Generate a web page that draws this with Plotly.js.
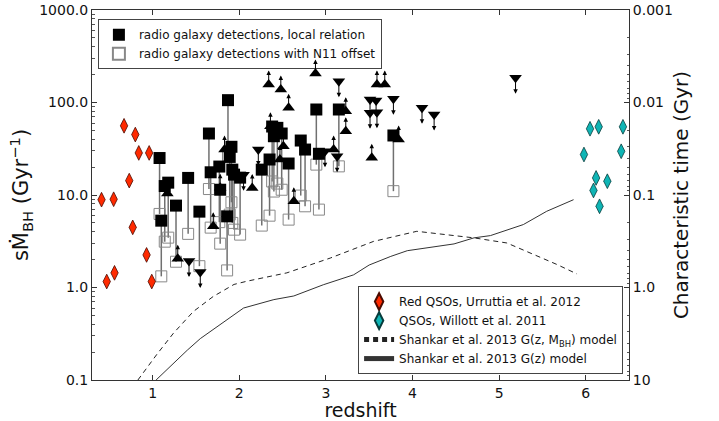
<!DOCTYPE html>
<html><head><meta charset="utf-8">
<script src="https://cdn.plot.ly/plotly-3.0.1.min.js"></script>
<style>html,body{margin:0;padding:0;background:#fff}#chart{width:719px;height:421px}</style>
</head><body><div id="chart"></div>
<script>
// Radio galaxy detections: redshift, local-relation sMdot, N11-offset sMdot
const zSq    = [1.08,1.10,1.14,1.18,1.27,1.41,1.54,1.65,1.67,1.77,1.78,1.87,1.86,1.89,1.91,1.92,1.94,2.01,2.26,2.35,2.38,2.44,2.40,2.49,2.57,2.71,2.76,2.89,2.92,3.15,3.78];
const vLocal = [25.1,5.28,12.5,13.6,7.68,15.3,6.61,46.2,17.6,20.3,11.4,106,5.88,25.8,33.2,18.8,16.6,15.4,18.8,24.2,55.0,53.2,43.2,46.2,21.9,38.8,31.0,84.0,27.9,84.0,44.0];
const vN11   = [6.24,1.32,3.13,3.46,1.90,3.80,1.70,11.6,4.44,5.09,2.98,26.7,1.53,6.14,8.34,4.99,4.22,3.73,4.67,5.98,14.0,13.3,10.9,11.4,5.42,9.86,7.55,21.3,6.95,20.4,11.0];
// Upper limits (down triangles)
const zUL = [1.42,1.55,2.05,2.22,2.99,3.13,3.15,3.51,3.58,3.51,3.59,3.78,4.11,4.25,5.19];
const vUL = [1.93,1.47,16.6,31.0,29.7,26.2,170,108,105,77.4,78.5,110,87.7,74.1,185];
// Lower limits (up triangles)
const zLL = [1.17,1.29,1.70,1.83,1.78,2.15,2.34,2.48,2.57,2.88,3.23,3.23,2.63,2.51,2.47,3.09,3.53,3.59,3.68,3.84,2.36];
const vLL = [10.4,2.05,4.58,31.0,12.0,11.9,157,138,87.7,206,80.5,48.9,8.55,33.6,24.2,31.0,25.2,157,157,39.8,55.4];
// Red QSOs, Urruttia et al. 2012
const zRed = [0.41,0.55,0.67,0.80,0.84,0.96,0.73,0.77,0.93,0.56,0.47,0.99];
const vRed = [8.9,9.0,56,45,28.5,28.5,14.3,4.47,2.25,1.44,1.16,1.16];
// QSOs, Willott et al. 2011
const zCyan = [6.05,6.15,6.43,5.98,6.41,6.12,6.25,6.09,6.16];
const vCyan = [52,54.6,54.6,27.4,29.7,15.3,14.1,11.2,7.55];
// Shankar et al. 2013 models
const zModelMBH = [0.83,0.94,1.05,1.24,1.47,1.70,1.94,2.09,2.55,3.05,3.55,4.05,4.38,4.71,5.09,5.36,5.67,5.90];
const vModelMBH = [0.10,0.14,0.19,0.32,0.55,0.80,1.08,1.17,1.44,2.08,3.15,4.05,3.72,3.44,3.03,2.36,1.77,1.40];
const zModelG = [1.04,1.20,1.40,1.55,1.70,2.05,2.40,2.63,2.97,3.32,3.50,3.75,3.94,4.48,4.71,4.90,5.28,5.55,5.86];
const vModelG = [0.10,0.14,0.21,0.28,0.35,0.60,0.74,0.81,1.07,1.37,1.75,2.17,2.50,2.96,3.44,3.64,4.79,6.67,8.90];
// Tick labels
const xTickVals = [1,2,3,4,5,6];
const xTickText = ['1','2','3','4','5','6'];
const yTickVals = [0.1,1,10,100,1000];
const yTickText = ['0.1','1.0','10.0','100.0','1000.0'];
const y2TickVals = [0.001,0.01,0.1,1,10];
const y2TickText = ['0.001','0.01','0.1','1.0','10'];

const FONT = 'DejaVu Sans, Arial, sans-serif';
function minorVals(decades){const out=[];decades.forEach(d=>{for(let k=2;k<=9;k++)out.push(k*d);});return out;}

const lx=[], ly=[];
for(let i=0;i<zSq.length;i++){lx.push(zSq[i],zSq[i],null);ly.push(vLocal[i],vN11[i],null);}

const traces = [
  {x:lx,y:ly,mode:'lines',line:{color:'#707070',width:1.5},showlegend:false,hoverinfo:'skip'},
  {x:zModelMBH,y:vModelMBH,mode:'lines',line:{color:'#222',width:1,dash:'5px,4px'},name:'Shankar et al. 2013 G(z, M<sub>BH</sub>) model',legend:'legend2',legendrank:3},
  {x:zModelG,y:vModelG,mode:'lines',line:{color:'#333',width:1},name:'Shankar et al. 2013 G(z) model',legend:'legend2',legendrank:4},
  {x:zSq,y:vN11,mode:'markers',marker:{symbol:'square',size:11,color:'rgba(255,255,255,0)',line:{color:'#888',width:1}},name:'radio galaxy detections with N11 offset',legendrank:2},
  {x:zSq,y:vLocal,mode:'markers',marker:{symbol:'square',size:12,color:'#000',line:{width:0}},name:'radio galaxy detections, local relation',legendrank:1},
  {x:zUL,y:vUL,mode:'markers',marker:{symbol:'triangle-down',size:11,color:'#000',line:{width:0}},showlegend:false},
  {x:zLL,y:vLL,mode:'markers',marker:{symbol:'triangle-up',size:11,color:'#000',line:{width:0}},showlegend:false},
  {x:zRed,y:vRed,mode:'markers',marker:{symbol:'diamond-tall',size:10.5,color:'#ff2a00',line:{color:'#4a0a00',width:0.8}},name:'Red QSOs, Urruttia et al. 2012',legend:'legend2',legendrank:1},
  {x:zCyan,y:vCyan,mode:'markers',marker:{symbol:'diamond-tall',size:10.5,color:'#0fb5b5',line:{color:'#063c3c',width:0.8}},name:'QSOs, Willott et al. 2011',legend:'legend2',legendrank:2},
  {x:[null],y:[null],yaxis:'y2',mode:'markers',showlegend:false,hoverinfo:'skip'}
];

const annotations = [];
for(let i=0;i<zUL.length;i++){
  annotations.push({x:zUL[i],y:Math.log10(vUL[i]),xref:'x',yref:'y',text:'',showarrow:true,arrowhead:2,arrowsize:0.9,arrowwidth:1,arrowcolor:'#000',ax:0,ay:-16,yshift:-16});
}
for(let i=0;i<zLL.length;i++){
  annotations.push({x:zLL[i],y:Math.log10(vLL[i]),xref:'x',yref:'y',text:'',showarrow:true,arrowhead:2,arrowsize:0.9,arrowwidth:1,arrowcolor:'#000',ax:0,ay:14,yshift:14});
}

const layout = {
  width:719,height:421,
  margin:{l:92,r:90,t:10,b:41,pad:0},
  paper_bgcolor:'#fff',plot_bgcolor:'#fff',
  font:{family:FONT,color:'#111',size:14},
  showlegend:true,
  xaxis:{range:[0.3,6.5],tickvals:xTickVals,ticktext:xTickText,ticks:'inside',ticklen:5,tickcolor:'#333',
         showline:true,linecolor:'#333',linewidth:1,mirror:'ticks',showgrid:false,zeroline:false,
         tickfont:{size:14},title:{text:'redshift',font:{size:19},standoff:4}},
  yaxis:{type:'log',range:[-1,3],tickvals:yTickVals,ticktext:yTickText,ticks:'inside',ticklen:5,tickcolor:'#333',
         showline:true,linecolor:'#333',linewidth:1,mirror:true,showgrid:false,zeroline:false,
         minor:{ticks:'inside',ticklen:2.5,tickcolor:'#555',tickvals:minorVals([0.1,1,10,100]),showgrid:false},
         tickfont:{size:14},title:{text:'s\u1E40<sub>BH</sub> (Gyr<sup>\u22121</sup>)',font:{size:21},standoff:4}},
  yaxis2:{type:'log',overlaying:'y',side:'right',range:[1,-3],tickvals:y2TickVals,ticktext:y2TickText,ticks:'inside',ticklen:5,tickcolor:'#333',
          showline:true,linecolor:'#333',linewidth:1,showgrid:false,zeroline:false,
          minor:{ticks:'inside',ticklen:2.5,tickcolor:'#555',tickvals:minorVals([0.001,0.01,0.1,1]),showgrid:false},
          tickfont:{size:14},title:{text:'Characteristic time (Gyr)',font:{size:20},standoff:2}},
  legend:{x:0.011,y:0.975,xanchor:'left',yanchor:'top',bgcolor:'#fff',bordercolor:'#444',borderwidth:1,
          font:{size:12,family:FONT},tracegroupgap:0,itemsizing:'constant'},
  legend2:{x:0.989,y:0.016,xanchor:'right',yanchor:'bottom',bgcolor:'#fff',bordercolor:'#444',borderwidth:1,
          font:{size:12,family:FONT},tracegroupgap:0,itemsizing:'constant'},
  annotations:annotations
};
Plotly.newPlot('chart',traces,layout,{displayModeBar:false,staticPlot:true});
</script></body></html>
